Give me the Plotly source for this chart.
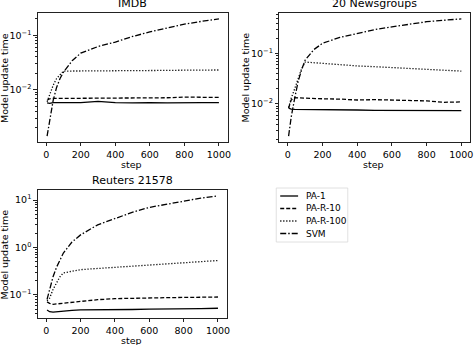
import plotly.graph_objects as go
import math

W, H = 474, 345

steps = [5, 20, 40, 60, 80, 100, 150, 200, 300, 400, 500, 600, 700, 800, 900, 1000]

series_names = ["PA-1", "PA-R-10", "PA-R-100", "SVM"]

imdb_pa1 = [0.0057, 0.0056, 0.0058, 0.0058, 0.0057, 0.0058, 0.0058, 0.0058, 0.0061, 0.0058, 0.0057, 0.0058, 0.0057, 0.0058, 0.0058, 0.0058]
imdb_par10 = [0.0064, 0.0068, 0.0069, 0.0069, 0.0069, 0.0069, 0.0070, 0.0070, 0.0071, 0.0071, 0.0071, 0.0071, 0.0071, 0.0073, 0.0072, 0.0072]
imdb_par100 = [0.0060, 0.0080, 0.0120, 0.0160, 0.0190, 0.0220, 0.0220, 0.0220, 0.0220, 0.0222, 0.0224, 0.0225, 0.0226, 0.0228, 0.0229, 0.0230]
imdb_svm = [0.0014, 0.0028, 0.0063, 0.0110, 0.0160, 0.0210, 0.0340, 0.0470, 0.0620, 0.0750, 0.0950, 0.1150, 0.1350, 0.1600, 0.1800, 0.2000]

ng_pa1 = [0.0083, 0.0079, 0.0078, 0.0078, 0.0077, 0.0077, 0.0077, 0.0077, 0.0076, 0.0076, 0.0075, 0.0075, 0.0075, 0.0075, 0.0074, 0.0074]
ng_par10 = [0.0083, 0.0120, 0.0133, 0.0132, 0.0130, 0.0130, 0.0128, 0.0127, 0.0125, 0.0120, 0.0122, 0.0120, 0.0118, 0.0115, 0.0108, 0.0110]
ng_par100 = [0.0085, 0.0130, 0.0200, 0.0330, 0.0500, 0.0680, 0.0660, 0.0630, 0.0600, 0.0570, 0.0550, 0.0530, 0.0510, 0.0490, 0.0470, 0.0450]
ng_svm = [0.0023, 0.0055, 0.0130, 0.0280, 0.0480, 0.0740, 0.1200, 0.1600, 0.2100, 0.2500, 0.3000, 0.3400, 0.3800, 0.4300, 0.4600, 0.4900]

reu_pa1 = [0.048, 0.044, 0.043, 0.044, 0.045, 0.046, 0.047, 0.048, 0.048, 0.049, 0.049, 0.050, 0.050, 0.050, 0.051, 0.052]
reu_par10 = [0.071, 0.066, 0.063, 0.064, 0.066, 0.068, 0.071, 0.074, 0.079, 0.083, 0.085, 0.086, 0.087, 0.088, 0.089, 0.090]
reu_par100 = [0.075, 0.085, 0.130, 0.180, 0.240, 0.290, 0.320, 0.340, 0.360, 0.380, 0.410, 0.430, 0.460, 0.490, 0.510, 0.530]
reu_svm = [0.080, 0.130, 0.240, 0.380, 0.550, 0.760, 1.300, 1.840, 3.000, 4.100, 5.500, 7.000, 8.200, 9.500, 11.00, 12.30]

panel_titles = ["IMDB", "20 Newsgroups", "Reuters 21578"]
x_title = "step"
y_title = "Model update time"
x_ticks = [0, 200, 400, 600, 800, 1000]
y_ticks = [[1e-2, 1e-1], [1e-2, 1e-1], [1e-1, 1e0, 1e1]]
y_ticktext = [["10<sup>−2</sup>", "10<sup>−1</sup>"],
              ["10<sup>−2</sup>", "10<sup>−1</sup>"],
              ["10<sup>−1</sup>", "10<sup>0</sup>", "10<sup>1</sup>"]]

data = [
    [imdb_pa1, imdb_par10, imdb_par100, imdb_svm],
    [ng_pa1, ng_par10, ng_par100, ng_svm],
    [reu_pa1, reu_par10, reu_par100, reu_svm],
]

dashes = ["solid", "4px,2px", "1.2px,1.8px", "6px,2px,1.5px,2px"]
LW = 1.3
FONT = "DejaVu Sans"
AX_COL = "#222222"

# panel boxes in pixels: (left, right, top, bottom)
boxes = [(38, 229, 13, 142), (281, 473, 13, 142), (38, 228, 190, 318)]

fig = go.Figure()
layout = dict(
    width=W, height=H,
    margin=dict(l=0, r=0, t=0, b=0),
    paper_bgcolor="white", plot_bgcolor="white",
    showlegend=False,
    font=dict(family=FONT, size=9.5, color="black"),
)

annotations = []
shapes = []
for i, (vals, box) in enumerate(zip(data, boxes)):
    n = "" if i == 0 else str(i + 1)
    xa, ya = "x" + n, "y" + n
    l, r, t, b = box
    for name, v, d in zip(series_names, vals, dashes):
        fig.add_trace(go.Scatter(x=steps, y=v, mode="lines", name=name,
                                 line=dict(color="black", width=LW, dash=d),
                                 xaxis=xa, yaxis=ya))
    allv = [y for s in vals for y in s]
    lo, hi = math.log10(min(allv)), math.log10(max(allv))
    m = (hi - lo) * 0.05
    minor_vals = [k * 10 ** e for e in range(math.floor(lo - m), math.ceil(hi + m) + 1)
                  for k in range(2, 10)]
    layout["xaxis" + n] = dict(
        domain=[l / W, r / W], anchor=ya, range=[-49, 1050],
        tickvals=x_ticks, ticks="outside", ticklen=3.5, tickwidth=0.8, tickcolor=AX_COL,
        showline=True, linecolor=AX_COL, linewidth=0.9, mirror=True,
        showgrid=False, zeroline=False, tickfont=dict(size=9.5, family=FONT),
    )
    layout["yaxis" + n] = dict(
        domain=[1 - b / H, 1 - t / H], anchor=xa, type="log",
        range=[lo - m, hi + m],
        tickvals=y_ticks[i], ticktext=y_ticktext[i],
        ticks="outside", ticklen=3.5, tickwidth=0.8, tickcolor=AX_COL,
        minor=dict(tickmode="array", tickvals=minor_vals, ticks="outside", ticklen=2,
                   tickwidth=0.6, tickcolor=AX_COL, showgrid=False),
        showline=True, linecolor=AX_COL, linewidth=0.9, mirror=True,
        showgrid=False, zeroline=False, tickfont=dict(size=9.5, family=FONT),
    )
    cx = (l + r) / 2 / W
    annotations.append(dict(text=panel_titles[i], x=cx, y=1 - t / H, xref="paper", yref="paper",
                            xanchor="center", yanchor="bottom", yshift=1, showarrow=False,
                            font=dict(size=11, family=FONT)))
    annotations.append(dict(text=x_title, x=(46.7 + (l - 38) + 86) / W, y=1 - (b + 22) / H,
                            xref="paper", yref="paper", xanchor="center", yanchor="middle",
                            showarrow=False, font=dict(size=9.5, family=FONT)))
    annotations.append(dict(text=y_title, x=(l - 33.5) / W, y=1 - (t + b) / 2 / H,
                            xref="paper", yref="paper", xanchor="center", yanchor="middle",
                            textangle=-90, showarrow=False, font=dict(size=9.5, family=FONT)))

# legend box (custom, matplotlib-style)
lg_l, lg_r, lg_t, lg_b = 278, 350, 188, 242
shapes.append(dict(type="rect", xref="paper", yref="paper",
                   x0=lg_l / W, x1=lg_r / W, y0=1 - lg_b / H, y1=1 - lg_t / H,
                   line=dict(color="#d8d8d8", width=0.8), fillcolor="white"))
row_y = [196, 208.5, 221, 233.5]
for name, d, yy in zip(series_names, dashes, row_y):
    shapes.append(dict(type="line", xref="paper", yref="paper",
                       x0=282 / W, x1=300 / W, y0=1 - yy / H, y1=1 - yy / H,
                       line=dict(color="black", width=LW, dash=d)))
    annotations.append(dict(text=name, x=306 / W, y=1 - yy / H, xref="paper", yref="paper",
                            xanchor="left", yanchor="middle", showarrow=False,
                            font=dict(size=9, family=FONT)))

layout["annotations"] = annotations
layout["shapes"] = shapes
fig.update_layout(**layout)
fig.write_html("out.html")
